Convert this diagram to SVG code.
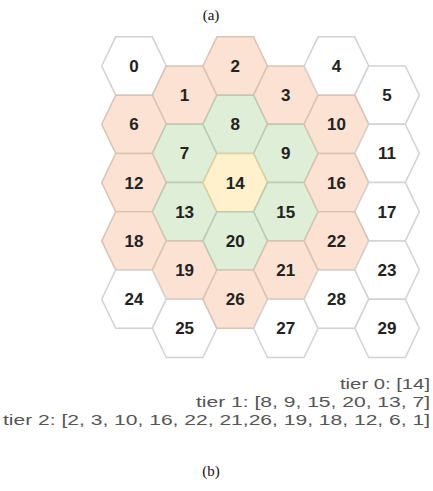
<svg xmlns="http://www.w3.org/2000/svg" xmlns:xlink="http://www.w3.org/1999/xlink" width="433" height="491" viewBox="0 0 433 491">
<style>
.w{fill:#ffffff;stroke:#d2d2d2;stroke-width:1.5}
.p{fill:#fbe2d2;stroke:#d9c3b3;stroke-width:1.5}
.g{fill:#dfeed7;stroke:#bccab4;stroke-width:1.5}
.y{fill:#fff1cb;stroke:#dccfa3;stroke-width:1.5}
.n{font-family:"Liberation Sans",Arial,sans-serif;font-weight:bold;font-size:17px;fill:#222222;text-anchor:middle}
.cap{font-family:"Liberation Serif","Times New Roman",serif;font-size:15px;fill:#111;text-anchor:middle}
.t{font-family:"Liberation Sans",Arial,sans-serif;font-size:15px;fill:#555555;text-anchor:end}
</style>
<defs>
<polygon id="hex" points="-32.3,0 -18.3,-29.15 18.3,-29.15 32.3,0 18.3,29.15 -18.3,29.15"/>
</defs>
<rect width="433" height="491" fill="#ffffff"/>
<text class="cap" x="211" y="20">(a)</text>
<g id="connectors"></g>
<g id="n0"><use xlink:href="#hex" class="w" x="134" y="66"/><text class="n" x="134" y="72">0</text></g>
<g id="n1"><use xlink:href="#hex" class="p" x="184.6" y="95.15"/><text class="n" x="184.6" y="101.15">1</text></g>
<g id="n2"><use xlink:href="#hex" class="p" x="235.2" y="66"/><text class="n" x="235.2" y="72">2</text></g>
<g id="n3"><use xlink:href="#hex" class="p" x="285.8" y="95.15"/><text class="n" x="285.8" y="101.15">3</text></g>
<g id="n4"><use xlink:href="#hex" class="w" x="336.4" y="66"/><text class="n" x="336.4" y="72">4</text></g>
<g id="n5"><use xlink:href="#hex" class="w" x="387" y="95.15"/><text class="n" x="387" y="101.15">5</text></g>
<g id="n6"><use xlink:href="#hex" class="p" x="134" y="124.3"/><text class="n" x="134" y="130.3">6</text></g>
<g id="n7"><use xlink:href="#hex" class="g" x="184.6" y="153.45"/><text class="n" x="184.6" y="159.45">7</text></g>
<g id="n8"><use xlink:href="#hex" class="g" x="235.2" y="124.3"/><text class="n" x="235.2" y="130.3">8</text></g>
<g id="n9"><use xlink:href="#hex" class="g" x="285.8" y="153.45"/><text class="n" x="285.8" y="159.45">9</text></g>
<g id="n10"><use xlink:href="#hex" class="p" x="336.4" y="124.3"/><text class="n" x="336.4" y="130.3">10</text></g>
<g id="n11"><use xlink:href="#hex" class="w" x="387" y="153.45"/><text class="n" x="387" y="159.45">11</text></g>
<g id="n12"><use xlink:href="#hex" class="p" x="134" y="182.6"/><text class="n" x="134" y="188.6">12</text></g>
<g id="n13"><use xlink:href="#hex" class="g" x="184.6" y="211.75"/><text class="n" x="184.6" y="217.75">13</text></g>
<g id="n14"><use xlink:href="#hex" class="y" x="235.2" y="182.6"/><text class="n" x="235.2" y="188.6">14</text></g>
<g id="n15"><use xlink:href="#hex" class="g" x="285.8" y="211.75"/><text class="n" x="285.8" y="217.75">15</text></g>
<g id="n16"><use xlink:href="#hex" class="p" x="336.4" y="182.6"/><text class="n" x="336.4" y="188.6">16</text></g>
<g id="n17"><use xlink:href="#hex" class="w" x="387" y="211.75"/><text class="n" x="387" y="217.75">17</text></g>
<g id="n18"><use xlink:href="#hex" class="p" x="134" y="240.9"/><text class="n" x="134" y="246.9">18</text></g>
<g id="n19"><use xlink:href="#hex" class="p" x="184.6" y="270.05"/><text class="n" x="184.6" y="276.05">19</text></g>
<g id="n20"><use xlink:href="#hex" class="g" x="235.2" y="240.9"/><text class="n" x="235.2" y="246.9">20</text></g>
<g id="n21"><use xlink:href="#hex" class="p" x="285.8" y="270.05"/><text class="n" x="285.8" y="276.05">21</text></g>
<g id="n22"><use xlink:href="#hex" class="p" x="336.4" y="240.9"/><text class="n" x="336.4" y="246.9">22</text></g>
<g id="n23"><use xlink:href="#hex" class="w" x="387" y="270.05"/><text class="n" x="387" y="276.05">23</text></g>
<g id="n24"><use xlink:href="#hex" class="w" x="134" y="299.2"/><text class="n" x="134" y="305.2">24</text></g>
<g id="n25"><use xlink:href="#hex" class="w" x="184.6" y="328.35"/><text class="n" x="184.6" y="334.35">25</text></g>
<g id="n26"><use xlink:href="#hex" class="p" x="235.2" y="299.2"/><text class="n" x="235.2" y="305.2">26</text></g>
<g id="n27"><use xlink:href="#hex" class="w" x="285.8" y="328.35"/><text class="n" x="285.8" y="334.35">27</text></g>
<g id="n28"><use xlink:href="#hex" class="w" x="336.4" y="299.2"/><text class="n" x="336.4" y="305.2">28</text></g>
<g id="n29"><use xlink:href="#hex" class="w" x="387" y="328.35"/><text class="n" x="387" y="334.35">29</text></g>
<g id="legend">
<text class="t" x="430" y="389" textLength="90" lengthAdjust="spacingAndGlyphs">tier 0: [14]</text>
<text class="t" x="430" y="407" textLength="234" lengthAdjust="spacingAndGlyphs">tier 1: [8, 9, 15, 20, 13, 7]</text>
<text class="t" x="430" y="425" textLength="427" lengthAdjust="spacingAndGlyphs">tier 2: [2, 3, 10, 16, 22, 21,26, 19, 18, 12, 6, 1]</text>
</g>
<text class="cap" x="211" y="476">(b)</text>
</svg>
